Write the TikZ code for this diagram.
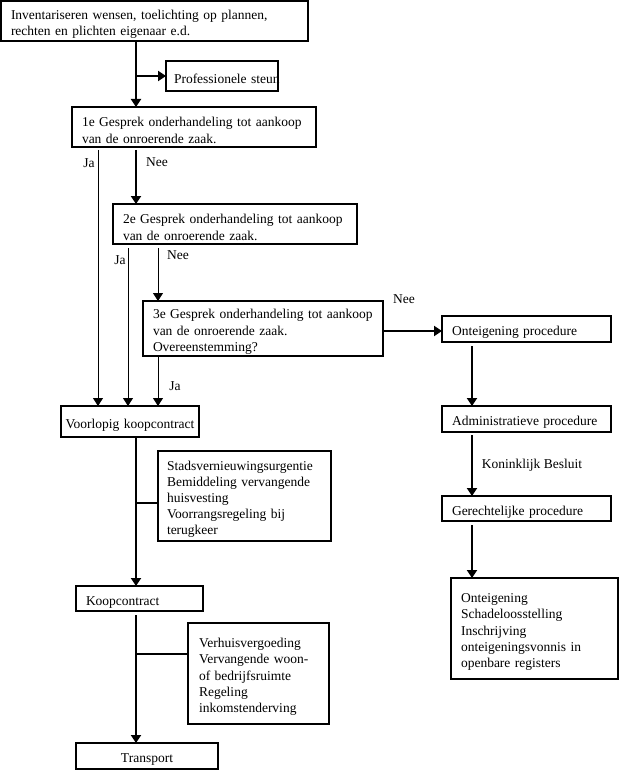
\documentclass[tikz,border=0pt]{standalone}
\usepackage{fontspec}
\setmainfont{Liberation Serif}
\usetikzlibrary{arrows.meta}
\begin{document}
\begin{tikzpicture}[x=1pt,y=-1pt,
  font=\fontsize{13.5}{16.2}\selectfont,
  box/.style={draw,line width=2pt,anchor=north west,outer sep=0pt,inner xsep=10pt,inner ysep=0pt,align=left,
    execute at begin node={\rule{0pt}{16pt}}},
  cbox/.style={box,inner xsep=2pt,align=center},
  thk/.style={line width=2pt,-{Triangle[length=8pt,width=10pt]}},
  thn/.style={line width=1pt,-{Triangle[length=8pt,width=10pt]}},
  brl/.style={line width=2pt},
  lbl/.style={inner sep=0pt}]
\useasboundingbox (0,0) rectangle (619,770);
\coordinate (cA) at (98,0);
\coordinate (cB) at (128,0);
\coordinate (cC) at (158,0);
\coordinate (cM) at (136,0);
\coordinate (cR) at (472,0);
% boxes
\node[box,minimum width=307pt,minimum height=40pt,text width=287pt] (top) at (1,1)
  {\mbox{Inventariseren wensen, toelichting op plannen,}\\\mbox{rechten en plichten eigenaar e.d.}};
\node[box,minimum width=112pt,minimum height=30pt,inner xsep=8pt,text width=96pt] (prof) at (166,61)
  {\mbox{Professionele steun}};
\node[box,minimum width=244pt,minimum height=40pt,text width=224pt] (e1) at (72,107)
  {\mbox{1e Gesprek onderhandeling tot aankoop}\\\mbox{van de onroerende zaak.}};
\node[box,minimum width=244pt,minimum height=40pt,text width=224pt] (e2) at (113,204)
  {\mbox{2e Gesprek onderhandeling tot aankoop}\\\mbox{van de onroerende zaak.}};
\node[box,minimum width=240pt,minimum height=55pt,text width=220pt] (e3) at (143,301)
  {\mbox{3e Gesprek onderhandeling tot aankoop}\\\mbox{van de onroerende zaak.}\\\mbox{Overeenstemming?}};
\node[cbox,minimum width=138pt,minimum height=31pt,text width=134pt] (voor) at (61,406) {\mbox{Voorlopig koopcontract}};
\node[box,minimum width=169pt,minimum height=26pt,text width=149pt] (ont) at (442,316) {\mbox{Onteigening procedure}};
\node[box,minimum width=169pt,minimum height=26pt,text width=149pt] (adm) at (442,406) {\mbox{Administratieve procedure}};
\node[box,minimum width=169pt,minimum height=25pt,text width=149pt] (ger) at (442,496) {\mbox{Gerechtelijke procedure}};
\node[box,minimum width=173pt,minimum height=90pt,text width=155pt,inner xsep=9pt] (stads) at (158,451)
  {\mbox{Stadsvernieuwingsurgentie}\\\mbox{Bemiddeling vervangende}\\\mbox{huisvesting}\\\mbox{Voorrangsregeling bij}\\\mbox{terugkeer}};
\node[box,minimum width=127pt,minimum height=25pt,text width=107pt] (koop) at (76,586) {\mbox{Koopcontract}};
\node[box,minimum width=141pt,minimum height=101pt,text width=119pt,inner xsep=11pt] (verh) at (188,623)
  {\mbox{Verhuisvergoeding}\\\mbox{Vervangende woon-}\\\mbox{of bedrijfsruimte}\\\mbox{Regeling}\\\mbox{inkomstenderving}};
\node[cbox,minimum width=142pt,minimum height=26pt,text width=138pt] (trans) at (76,743) {\mbox{Transport}};
\node[box,minimum width=166.5pt,minimum height=101pt,text width=146.5pt] (list) at (451,578)
  {\mbox{Onteigening}\\\mbox{Schadeloosstelling}\\\mbox{Inschrijving}\\\mbox{onteigeningsvonnis in}\\\mbox{openbare registers}};
% connectors
\draw[thk] (top.south -| cM) -- (e1.north -| cM);
\draw[thk] (prof.west -| cM) -- (prof.west);
\draw[thn,shorten <=3pt] (e1.south -| cA) -- (voor.north -| cA);
\draw[thk,shorten <=3pt] (e1.south -| cM) -- (e2.north -| cM);
\draw[thn,shorten <=4pt] (e2.south -| cB) -- (voor.north -| cB);
\draw[thn,shorten <=4pt] (e2.south -| cC) -- (e3.north -| cC);
\draw[thn] (e3.south -| cC) -- (voor.north -| cC);
\draw[thk] ([yshift=-2pt]e3.east |- ont.west) -- ([yshift=-2pt]ont.west);
\draw[thk,shorten <=4pt] (ont.south -| cR) -- (adm.north -| cR);
\draw[thk,shorten <=3pt] (adm.south -| cR) -- (ger.north -| cR);
\draw[thk,shorten <=4pt] (ger.south -| cR) -- (list.north -| cR);
\draw[thk] (voor.south -| cM) -- (koop.north -| cM);
\draw[brl] ([yshift=-7pt]stads.west) -- ([yshift=-7pt]stads.west -| cM);
\draw[thk,shorten <=4pt] (koop.south -| cM) -- (trans.north -| cM);
\draw[brl] ([yshift=19.5pt]verh.west) -- ([yshift=19.5pt]verh.west -| cM);
% labels
\node[lbl] (ja1) at (89,163) {Ja};
\node[lbl] (nee1) at (157,162) {Nee};
\node[lbl] (ja2) at (120,260) {Ja};
\node[lbl] (nee2) at (178,255) {Nee};
\node[lbl] (ja3) at (175,386) {Ja};
\node[lbl] (nee3) at (404,299) {Nee};
\node[lbl] (kb) at (532,465) {Koninklijk Besluit};
\end{tikzpicture}
\end{document}
